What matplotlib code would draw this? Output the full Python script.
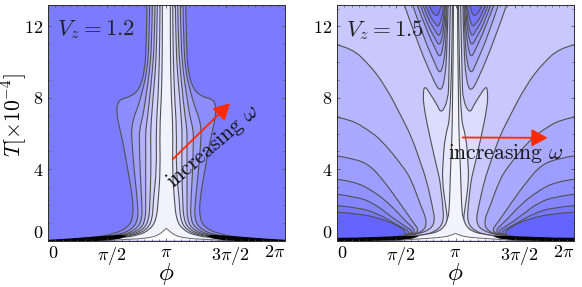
import numpy as np
import matplotlib
matplotlib.use('Agg')
from matplotlib import pyplot as plt
from matplotlib.patches import PathPatch
from matplotlib.path import Path
from matplotlib.ticker import MultipleLocator
from matplotlib.transforms import ScaledTranslation

plt.rcParams['font.family'] = ['cmr10', 'DejaVu Serif']
plt.rcParams['mathtext.fontset'] = 'cm'
plt.rcParams['axes.unicode_minus'] = False
plt.rcParams['axes.formatter.use_mathtext'] = True

# contours: T value and half width around phi = pi,
# half widths given in units of pi/356 (356 = panel edge)
UNIT = 356.0

# left panel, V_z = 1.2, outermost first
a1_T = [0.03, 0.15, 0.4, 0.8, 1.3, 2.3, 4.0, 5.5, 6.5, 7.2, 7.7, 7.95, 8.07, 8.5, 9.5, 11, 13.2]
a1_w = [300, 230, 150, 112, 100, 100, 116, 130, 143, 149, 147, 135, 106, 80, 65, 60, 58]
a2_T = [0.03, 0.15, 0.3, 0.6, 1.16, 2.3, 4.0, 5.5, 6.2, 6.9, 7.5, 8.5, 9.5, 11, 13.2]
a2_w = [285, 215, 150, 105, 84, 87, 97, 103, 105, 98, 85, 70, 58, 52, 50]
a3_T = [0.03, 0.15, 0.3, 0.6, 1.16, 2.3, 4.0, 5.5, 6.2, 7, 8, 9.5, 11, 13.2]
a3_w = [270, 200, 135, 92, 72, 74, 79, 81, 81, 70, 62, 50, 44, 42]
a4_T = [0.03, 0.15, 0.3, 0.6, 1.16, 2.3, 4.0, 5.5, 6.2, 7, 8, 9.5, 11, 13.2]
a4_w = [255, 185, 122, 80, 62, 62, 62, 62, 62, 56, 50, 42, 36, 34]
a5_T = [0.03, 0.15, 0.3, 0.6, 1.16, 2.3, 4.0, 5.5, 6.2, 7, 8, 9.5, 11, 13.2]
a5_w = [240, 170, 110, 70, 52, 49, 46, 47, 47, 44, 40, 33, 29, 27]
a6_T = [0.03, 0.15, 0.3, 0.6, 1.16, 2.3, 4.0, 6.2, 8, 9.5, 11, 13.2]
a6_w = [225, 155, 98, 60, 42, 39, 29, 31, 25, 22, 20, 19]
a7_T = [0.03, 0.15, 0.3, 0.6, 1.16, 2.3, 4.0, 6.2, 8, 9.5, 11, 13.2]
a7_w = [210, 140, 85, 50, 30, 24, 18, 20, 15, 13, 12, 12]
a_hump_T = [0.02, 0.08, 0.13, 0.32, 0.7]
a_hump_w = [170, 110, 60, 19, 0]
a_colors = ['#8d8dff', '#9f9fff', '#b1b1ff', '#c3c3ff', '#d3d3ff', '#e2e2ff', '#f2f2ff']

# black wedge along the bottom, left panel
a_wedge_w = [356, 300, 230, 170, 139, 118]
a_wedge_top = [0.08, 0.14, 0.24, 0.32, 0.36, 0.3]
a_wedge_low = [0, 0, 0, 0.04, 0.15, 0.3]

# right panel, V_z = 1.5, lobes from the panel edges
b1_T = [10.97, 10.78, 9.94, 8.73, 6.95, 5.83, 4.5, 3.4, 2, 1, 0.5, 0.24, 0.04]
b1_w = [356, 312, 262, 212, 162, 132, 107, 87, 70, 60, 85, 150, 356]
b2_T = [6.92, 6.77, 6.2, 5.64, 4.15, 3.4, 2, 1.1, 0.5, 0.25, 0.04]
b2_w = [356, 312, 262, 222, 157, 132, 105, 85, 95, 150, 356]
b3_T = [4.75, 4.6, 4.24, 3.4, 2.2, 1.1, 0.5, 0.26, 0.04]
b3_w = [356, 305, 257, 217, 170, 130, 105, 150, 356]
b4_T = [3.44, 3.32, 2.75, 2, 1.1, 0.5, 0.27, 0.04]
b4_w = [356, 302, 244, 194, 150, 115, 150, 356]
b5_T = [2.6, 2.48, 2.1, 1.35, 0.8, 0.5, 0.28, 0.04]
b5_w = [356, 300, 244, 194, 150, 125, 150, 356]
b6_T = [1.96, 1.87, 1.53, 0.88, 0.5, 0.3, 0.04]
b6_w = [356, 294, 234, 174, 135, 150, 356]
b7_T = [1.6, 1.53, 1.25, 0.78, 0.41, 0.3, 0.19, 0.07]
b7_w = [356, 294, 224, 164, 147, 154, 194, 356]
b_colors = ['#b6b6ff', '#a9a9ff', '#9d9dff', '#9191ff', '#8585ff', '#7878ff', '#6464ff']

# tongues hanging from the top edge
t1_T = [13.4, 11.25, 9.0, 8.3, 9.0, 10.7, 13.4]
t1_w = [157, 117, 67, 45, 32, 25, 22]
t2_T = [13.4, 11.44, 9.94, 9.3, 9.94, 11.63, 13.4]
t2_w = [132, 97, 62, 47, 34, 27, 25]
t3_T = [13.4, 11.8, 10.8, 10.2, 10.8, 12.2, 13.4]
t3_w = [119, 87, 62, 47, 37, 29, 27]
t4_T = [13.4, 12.2, 11.35, 10.9, 11.35, 12.56, 13.4]
t4_w = [109, 87, 62, 49, 39, 32, 29]
t5_T = [13.4, 12.4, 11.8, 11.4, 11.9, 12.75, 13.4]
t5_w = [102, 82, 62, 50, 40, 34, 32]
t6_T = [13.4, 12.56, 12.2, 11.95, 12.3, 12.9, 13.4]
t6_w = [94, 77, 62, 52, 44, 37, 35]
t7_T = [13.4, 12.84, 12.55, 12.8, 13.4]
t7_w = [85, 72, 57, 47, 40]
t_colors = ['#b8b8ff', '#a9a9ff', '#9c9cff', '#9090ff', '#8383ff', '#7676ff', '#6a6aff']

# central contours of the right panel
w_T = [0.04, 0.22, 0.3, 0.5, 1, 2, 3.4, 3.8, 5.8, 7.5, 8.2, 8.7, 8.2, 7.6, 7.1, 7.9, 9, 13.4]
w_w = [200, 150, 100, 60, 35, 38, 47, 52, 77, 95, 97, 93, 75, 55, 42, 22, 20, 15]
n_T = [0.04, 0.2, 0.25, 0.5, 1, 2, 3.4, 4.5, 5.8, 7.1, 13.4]
n_w = [190, 160, 110, 40, 22, 30, 40, 37, 32, 12, 9]
i_T = [0.04, 0.2, 0.35, 0.6, 1.2, 2, 4, 7, 13.4]
i_w = [180, 160, 80, 40, 22, 18, 15, 8, 6]
b_hump_T = [0.02, 0.1, 0.17, 0.27, 0.41]
b_hump_w = [170, 110, 50, 15, 0]

b_wedge_w = [356, 300, 170, 130, 110]
b_wedge_top = [0.19, 0.2, 0.28, 0.3, 0.27]
b_wedge_low = [0, 0, 0.04, 0.15, 0.27]

LINE = '#505050'


def _sides(w):
    w = np.array(w) / UNIT
    return np.pi * (1 - w), np.pi * (1 + w)


def _smooth(x, y):
    # read points as control points of a quadratic curve, so matplotlib draws it round
    pts = np.column_stack([x, y])
    verts = [pts[0]]
    for i in range(1, len(pts) - 1):
        end = pts[i + 1] if i == len(pts) - 2 else (pts[i] + pts[i + 1]) / 2
        verts += [pts[i], end]
    codes = [Path.MOVETO] + [Path.CURVE3] * (len(verts) - 1)
    return np.array(verts), codes


def _line(ax, x, y, color=LINE, lw=0.8):
    verts, codes = _smooth(x, y)
    ax.add_patch(PathPatch(Path(verts, codes), fill=False, edgecolor=color, linewidth=lw))


def _fill(ax, x, y, color):
    verts, codes = _smooth(x, y)
    ax.add_patch(PathPatch(Path(verts, codes), facecolor=color, edgecolor='none', linewidth=0))


def _fill_both(ax, T, w, color):
    # area between the mirrored branches
    left, right = _sides(w)
    v_l, c_l = _smooth(left, T)
    v_r, c_r = _smooth(right, T)
    verts = np.vstack([v_l, v_r[::-1]])
    codes = c_l + [Path.LINETO] + c_r[1:]
    ax.add_patch(PathPatch(Path(verts, codes), facecolor=color, edgecolor='none', linewidth=0))


def _band(ax, T, w, color):
    left, right = _sides(w)
    _fill_both(ax, T, w, color)
    _line(ax, left, T)
    _line(ax, right, T)


def _patch(ax, T, w, color):
    for side in _sides(w):
        _fill(ax, side, T, color)
        _line(ax, side, T)


def _wedge(ax, w, top, low):
    left, right = _sides(w)
    ax.fill_between(left, low, top, color='black', linewidth=0)
    ax.fill_between(right, low, top, color='black', linewidth=0)


def _hump(ax, T, w):
    left, right = _sides(w)
    _fill_both(ax, T, w, 'white')
    _line(ax, left, T, '#666666', 0.7)
    _line(ax, right, T, '#666666', 0.7)


def _decorate(ax, title, arrow_from, arrow_to, text_at, angle):
    ax.set_xlim(0, 2 * np.pi)
    ax.set_ylim(0, 13.2)
    ax.set_xticks([0, np.pi / 2, np.pi, 3 * np.pi / 2, 2 * np.pi])
    ax.set_xticklabels(['$0$', r'$\pi/2$', r'$\pi$', r'$3\pi/2$', r'$2\pi$'], fontsize=13)
    ax.set_yticks([0, 4, 8, 12])
    ax.set_yticklabels(['$0$', '$4$', '$8$', '$12$'], fontsize=13)
    ax.xaxis.set_minor_locator(MultipleLocator(np.pi / 16))
    ax.yaxis.set_minor_locator(MultipleLocator(1))
    ax.tick_params(which='both', direction='in', top=True, right=True, color='#555555')
    ax.tick_params(which='major', length=2.5, width=0.6)
    ax.tick_params(which='minor', length=1.3, width=0.5)
    ax.tick_params(axis='x', pad=3)
    ax.tick_params(axis='y', pad=3)
    labels = ax.get_xticklabels()
    labels[0].set_ha('left')
    labels[-1].set_ha('right')
    # the pi/2 and 3pi/2 labels sit a little right of their ticks in the original
    shift = ScaledTranslation(4.5 / 100, 0, ax.figure.dpi_scale_trans)
    labels[1].set_transform(labels[1].get_transform() + shift)
    labels[3].set_transform(labels[3].get_transform() + shift)
    ax.get_yticklabels()[0].set_va('bottom')
    for s in ax.spines.values():
        s.set_linewidth(0.7)
        s.set_color('#303030')
    ax.set_xlabel(r'$\phi$', fontsize=18)
    ax.xaxis.set_label_coords(0.5, -0.085)
    ax.text(0.24, 11.8, title, fontsize=16.5, va='center', color='#202020', zorder=6)
    ax.annotate(
        '', xy=arrow_to, xytext=arrow_from, zorder=5,
        arrowprops=dict(
            arrowstyle='-|>,head_length=0.65,head_width=0.35', mutation_scale=15,
            color='#ff2a00', linewidth=1.3, shrinkA=0, shrinkB=0
        )
    )
    ax.text(
        text_at[0], text_at[1], r'increasing $\omega$', fontsize=15.5, rotation=angle,
        ha='center', va='center', rotation_mode='anchor', color='#151515', zorder=6
    )


fig = plt.figure(figsize=(5.82, 2.87), dpi=100)
ax_l = fig.add_axes([47.7 / 582, 1 - 240.7 / 287, 237.3 / 582, 235.7 / 287])
ax_r = fig.add_axes([336.7 / 582, 1 - 240.7 / 287, 237.6 / 582, 235.7 / 287])

ax_l.set_facecolor('#7b7bff')
curves = [(a1_T, a1_w), (a2_T, a2_w), (a3_T, a3_w), (a4_T, a4_w), (a5_T, a5_w), (a6_T, a6_w), (a7_T, a7_w)]
for (T, w), color in zip(curves, a_colors):
    _band(ax_l, T, w, color)
_wedge(ax_l, a_wedge_w, a_wedge_top, a_wedge_low)
_hump(ax_l, a_hump_T, a_hump_w)
ax_l.set_ylabel(r'$T[\times 10^{-4}]$', fontsize=15.5)
ax_l.yaxis.set_label_coords(-0.08, 0.533)
_decorate(ax_l, '$V_z = 1.2$', (3.31, 4.56), (4.83, 7.7), (4.39, 5.27), 41)

ax_r.set_facecolor('#c8c8ff')
lobes = [(b1_T, b1_w), (b2_T, b2_w), (b3_T, b3_w), (b4_T, b4_w), (b5_T, b5_w), (b6_T, b6_w), (b7_T, b7_w)]
for (T, w), color in zip(lobes, b_colors):
    _patch(ax_r, T, w, color)
tongues = [(t1_T, t1_w), (t2_T, t2_w), (t3_T, t3_w), (t4_T, t4_w), (t5_T, t5_w), (t6_T, t6_w), (t7_T, t7_w)]
for (T, w), color in zip(tongues, t_colors):
    _patch(ax_r, T, w, color)
# the W shaped contour is not single valued in T, still mirrored around pi
_band(ax_r, w_T, w_w, '#dcdcff')
_band(ax_r, n_T, n_w, '#e8e8ff')
_band(ax_r, i_T, i_w, '#f3f3ff')
_wedge(ax_r, b_wedge_w, b_wedge_top, b_wedge_low)
_hump(ax_r, b_hump_T, b_hump_w)
_decorate(ax_r, '$V_z = 1.5$', (3.33, 5.78), (5.58, 5.76), (4.48, 4.9), 0)

fig.savefig('out.png', dpi=100)
